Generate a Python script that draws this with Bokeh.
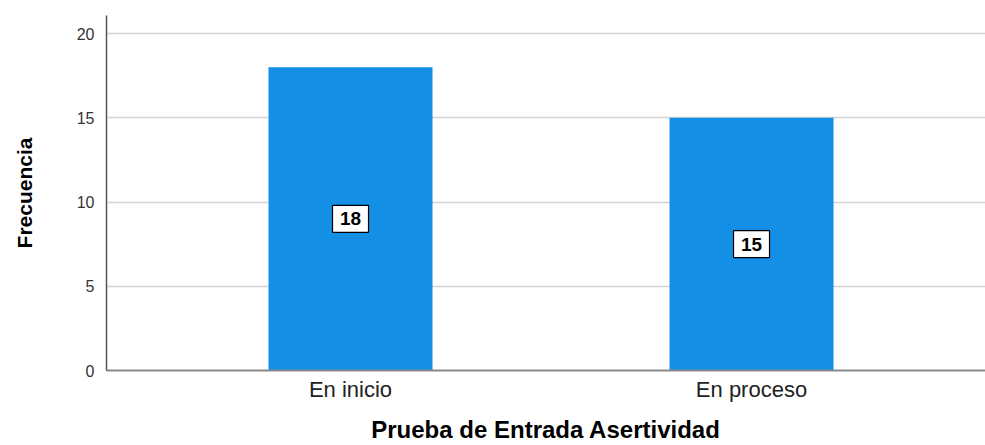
from bokeh.plotting import figure
from bokeh.models import ColumnDataSource, FixedTicker, Range1d
from bokeh.core.properties import value
from bokeh.embed import file_html
from bokeh.resources import INLINE

categories = ["En inicio", "En proceso"]
frequencies = [18, 15]
y_ticks = [0, 5, 10, 15, 20]

xpos = [i + 1 for i in range(len(categories))]
src = ColumnDataSource(dict(
    x=xpos,
    top=frequencies,
    ymid=[v / 2 for v in frequencies],
    lab=[str(v) for v in frequencies],
))

p = figure(width=985, height=445, output_backend="svg", toolbar_location=None,
           x_range=Range1d(0.3915, 2.5835), y_range=Range1d(0, 21.07))
p.min_border_left = 106
p.min_border_right = 0
p.min_border_top = 15
p.min_border_bottom = 0
p.outline_line_color = None
p.background_fill_color = "white"

p.vbar(x="x", top="top", bottom=0, width=0.409, source=src,
       fill_color="#1390e6", line_color=None)

p.rect(x="x", y="ymid", width=36, height=27, width_units="screen",
       height_units="screen", source=src, fill_color="white",
       line_color="black", line_width=1.2)
p.text(x="x", y="ymid", text="lab", source=src, text_align="center",
       text_baseline="middle", text_font=value("Liberation Sans"),
       text_font_style="bold", text_font_size="19px", text_color="black")

# y axis
p.yaxis.ticker = FixedTicker(ticks=y_ticks)
p.yaxis.axis_label = "Frecuencia"
p.yaxis.axis_label_text_font = "Liberation Sans"
p.yaxis.axis_label_text_font_style = "bold"
p.yaxis.axis_label_text_font_size = "21px"
p.yaxis.axis_label_text_color = "black"
p.yaxis.axis_label_standoff = 38
p.yaxis.major_label_text_font = "Liberation Sans"
p.yaxis.major_label_text_font_size = "16px"
p.yaxis.major_label_text_color = "#333333"
p.yaxis.major_label_standoff = 6
p.yaxis.major_tick_line_color = None
p.yaxis.minor_tick_line_color = None
p.yaxis.axis_line_color = "#555555"
p.yaxis.axis_line_width = 1.5

# x axis
p.xaxis.ticker = FixedTicker(ticks=xpos)
p.xaxis.major_label_overrides = {x: c for x, c in zip(xpos, categories)}
p.xaxis.axis_label = "Prueba de Entrada Asertividad"
p.xaxis.axis_label_text_font = "Liberation Sans"
p.xaxis.axis_label_text_font_style = "bold"
p.xaxis.axis_label_text_font_size = "24px"
p.xaxis.axis_label_text_color = "black"
p.xaxis.axis_label_standoff = 11
p.xaxis.major_label_text_font = "Liberation Sans"
p.xaxis.major_label_text_font_size = "22px"
p.xaxis.major_label_text_color = "#222222"
p.xaxis.major_label_standoff = 0
p.xaxis.major_tick_line_color = None
p.xaxis.minor_tick_line_color = None
p.xaxis.axis_line_color = "#888888"
p.xaxis.axis_line_width = 2

p.xgrid.grid_line_color = None
p.ygrid.grid_line_color = "#d4d4d4"
p.ygrid.grid_line_width = 1.5

open("out.html", "w").write(file_html(p, INLINE))
